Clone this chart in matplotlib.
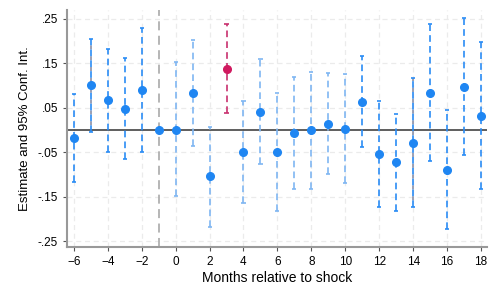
import numpy as np
import matplotlib.pyplot as plt

plt.rcParams['font.family'] = ['Liberation Sans', 'DejaVu Sans']

# event time, point estimate, 95% CI
months = np.arange(-6, 19)
est = np.array([-0.017, 0.100, 0.067, 0.048, 0.090, 0.000, 0.000, 0.084, -0.104, 0.138,
                -0.050, 0.041, -0.050, -0.007, -0.001, 0.013, 0.002, 0.064, -0.054, -0.073,
                -0.029, 0.084, -0.089, 0.097, 0.032])
ci_hi = np.array([0.080, 0.205, 0.182, 0.162, 0.229, np.nan, 0.153, 0.203, 0.007, 0.239,
                  0.065, 0.160, 0.083, 0.119, 0.131, 0.129, 0.125, 0.167, 0.065, 0.036,
                  0.116, 0.238, 0.045, 0.251, 0.198])
ci_lo = np.array([-0.117, -0.005, -0.050, -0.066, -0.050, np.nan, -0.148, -0.035, -0.217, 0.039,
                  -0.164, -0.076, -0.182, -0.133, -0.133, -0.100, -0.119, -0.039, -0.173, -0.182,
                  -0.174, -0.070, -0.223, -0.057, -0.133])
# 0 = bright blue, 1 = light blue, 2 = blue/dark, 3 = highlighted
kind = np.array([0, 2, 0, 0, 0, 0, 1, 1, 1, 3,
                 1, 1, 1, 1, 1, 1, 1, 0, 0, 0,
                 2, 0, 0, 0, 0])

yticks = [-0.25, -0.15, -0.05, 0.05, 0.15, 0.25]
ylabels = ['-.25', '-.15', '-.05', '.05', '.15', '.25']

blue = '#1f86f2'
bar_cols = {0: '#2a8cf5', 1: '#7fb6f2', 2: '#2a8cf5', 3: '#c8306e'}

fig = plt.figure(figsize=(4.98, 2.99), dpi=100)
ax = fig.add_axes([0.1345, 0.174, 0.8435, 0.793])

ax.grid(True, color='#ebebeb', linestyle=(0, (4, 3)), linewidth=0.9)
ax.set_axisbelow(True)

ax.axhline(0, color='#333333', linewidth=1.1, zorder=2)
ax.axvline(-1, color='#b0b0b0', linestyle=(0, (5, 3)), linewidth=1.3, zorder=2)

for m, e, lo, hi, k in zip(months, est, ci_lo, ci_hi, kind):
    pc = '#d0195f' if k == 3 else blue
    if not np.isnan(lo):
        kw = dict(gapcolor='#8a90a8') if k == 2 else {}
        ax.vlines(m, lo, hi, colors=bar_cols[k], linestyles=(0, (4, 2.5)), linewidth=1.2, zorder=3, **kw)
        ax.hlines([lo, hi], m - 0.12, m + 0.12, colors=bar_cols[k], linewidth=1.2, zorder=3)
    ax.plot(m, e, 'o', color=pc, markersize=5.5, zorder=4)

ax.set_xlim(-6.4, 18.35)
ax.set_ylim(-0.263, 0.27)
ax.set_xticks(np.arange(-6, 19, 2))
ax.set_yticks(yticks)
ax.set_yticklabels(ylabels)
ax.tick_params(labelsize=8.5, length=3, color='#555555', width=0.8)
ax.set_xlabel('Months relative to shock', fontsize=10, labelpad=2)
ax.set_ylabel('Estimate and 95% Conf. Int.', fontsize=9.5, labelpad=5)

for s in ['top', 'right']:
    ax.spines[s].set_visible(False)
for s in ['left', 'bottom']:
    ax.spines[s].set_color('#999999')
    ax.spines[s].set_linewidth(1.5)

fig.savefig('out.png', dpi=100)
